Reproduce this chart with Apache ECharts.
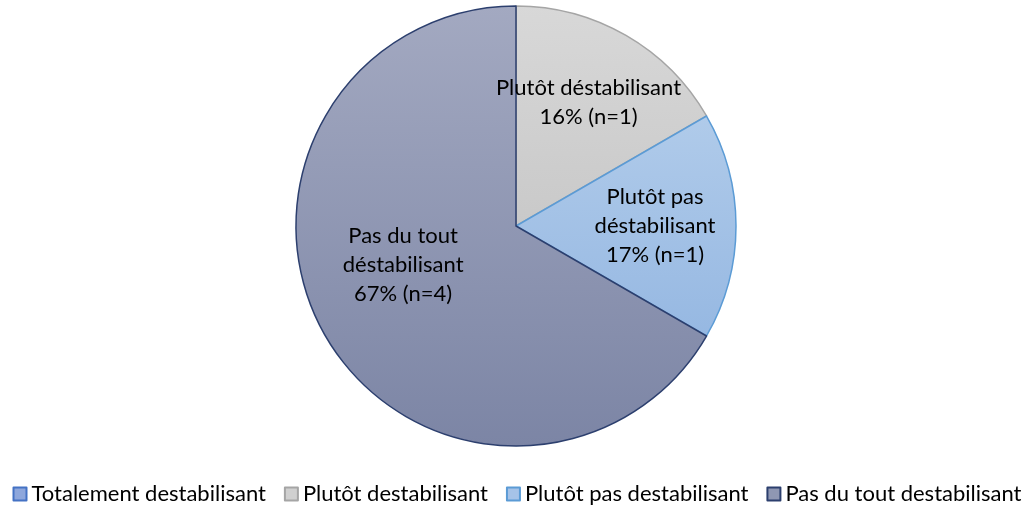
<!DOCTYPE html>
<html>
<head>
<meta charset="utf-8">
<script src="https://cdn.jsdelivr.net/npm/echarts@6/dist/echarts.min.js"></script>
<style>html,body{margin:0;padding:0;background:#fff}#c{width:1034px;height:511px}</style>
</head>
<body>
<div id="c"></div>
<script>
const categories = ['Totalement destabilisant', 'Plutôt destabilisant', 'Plutôt pas destabilisant', 'Pas du tout destabilisant'];
const counts = [0, 1, 1, 4];
const sliceLabels = ['', 'Plutôt déstabilisant\n16% (n=1)', 'Plutôt pas\ndéstabilisant\n17% (n=1)', 'Pas du tout\ndéstabilisant\n67% (n=4)'];

const grad = (a, b) => new echarts.graphic.LinearGradient(0, 0, 0, 1, [{offset: 0, color: a}, {offset: 1, color: b}]);
const fills = [grad('#9bb3e2', '#7f9bd6'), grad('#d8d8d8', '#c9c9c9'), grad('#b0cbea', '#96b8e2'), grad('#a3a9c1', '#7c85a5')];
const iconFills = ['#8ea7dc', '#d0d0d0', '#a6c3e8', '#8f97b3'];
const borders = ['#4472c4', '#a5a5a5', '#5b9bd5', '#2c3f6e'];
const offsets = [[0, 0], [16, -26], [26, 0], [-15, -18]];

const chart = echarts.init(document.getElementById('c'), null, {renderer: 'canvas'});
chart.setOption({
  animation: false,
  textStyle: {fontFamily: 'Lato'},
  legend: {
    bottom: 1,
    left: 'center',
    itemWidth: 13,
    itemHeight: 13,
    itemGap: 18,
    icon: 'rect',
    textStyle: {fontFamily: 'Lato', fontSize: 22, color: '#000'},
    data: categories.map((n, i) => ({name: n, itemStyle: {color: iconFills[i], borderColor: borders[i], borderWidth: 2}}))
  },
  series: [{
    type: 'pie',
    center: [516, 226],
    radius: 220,
    startAngle: 90,
    clockwise: true,
    label: {show: true, position: 'inside', fontFamily: 'Lato', fontSize: 22, lineHeight: 29, color: '#000', align: 'center'},
    labelLine: {show: false},
    emphasis: {disabled: true},
    data: categories.map((n, i) => ({
      name: n,
      value: counts[i],
      itemStyle: {color: fills[i], borderColor: borders[i], borderWidth: i === 0 ? 0 : 1.5},
      label: {show: counts[i] > 0, formatter: sliceLabels[i], offset: offsets[i]}
    }))
  }]
});
</script>
</body>
</html>
